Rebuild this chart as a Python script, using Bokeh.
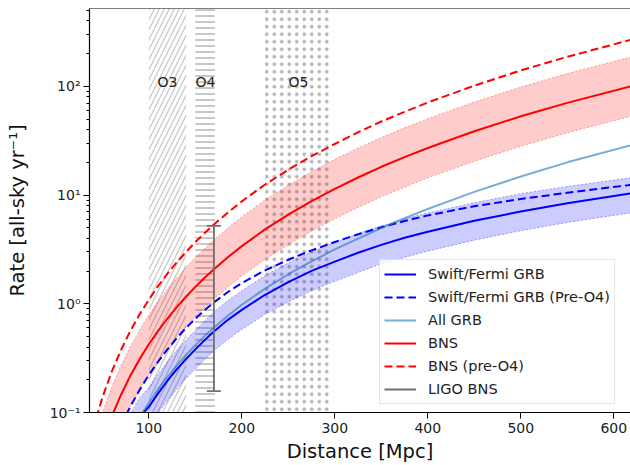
from bokeh.plotting import figure
from bokeh.models import (Range1d, FixedTicker, CustomJSTickFormatter, Span, Legend)
from bokeh.core.properties import value
from bokeh.embed import file_html
from bokeh.resources import INLINE

# ---------------- data ----------------
distance = [40, 50, 60, 70, 80, 90, 100, 110, 120, 130, 140, 150, 160, 170, 185, 200,
            225, 250, 275, 300, 325, 350, 375, 400, 450, 500, 550, 620]

swift_fermi = [0.008, 0.0155, 0.027, 0.043, 0.064, 0.091, 0.113, 0.150, 0.196, 0.249, 0.31, 0.381, 0.463, 0.557, 0.712, 0.88,
               1.21, 1.58, 2.005, 2.44, 2.945, 3.48, 4.05, 4.6, 5.8, 7.05, 8.4, 10.4]
swift_fermi_hi = [0.012, 0.023, 0.040, 0.065, 0.096, 0.137, 0.17, 0.225, 0.294, 0.374, 0.465, 0.57, 0.695, 0.84, 1.07, 1.32,
                  1.82, 2.37, 3.0, 3.66, 4.42, 5.2, 6.05, 6.85, 8.5, 10.3, 12.0, 14.5]
swift_fermi_lo = [0.0053, 0.0102, 0.0178, 0.028, 0.042, 0.060, 0.075, 0.099, 0.129, 0.164, 0.205, 0.251, 0.306, 0.37, 0.47, 0.58,
                  0.80, 1.04, 1.32, 1.61, 1.94, 2.33, 2.67, 3.05, 3.85, 4.7, 5.6, 6.9]
swift_fermi_pre = [0.0141, 0.0276, 0.0477, 0.0757, 0.113, 0.161, 0.221, 0.294, 0.38, 0.482, 0.60, 0.73, 0.874, 1.03, 1.283, 1.55,
                   2.03, 2.54, 3.10, 3.7, 4.36, 5.05, 5.78, 6.5, 7.9, 9.2, 10.5, 12.45]
all_grb = [0.0079, 0.0154, 0.0266, 0.0422, 0.063, 0.0897, 0.123, 0.164, 0.213, 0.270, 0.338, 0.415, 0.504, 0.604, 0.775, 0.98,
           1.38, 1.87, 2.46, 3.16, 3.98, 4.97, 6.12, 7.45, 10.7, 14.8, 20.0, 29.0]

bns = [0.0271, 0.053, 0.0915, 0.145, 0.217, 0.309, 0.424, 0.564, 0.732, 0.931, 1.16, 1.43, 1.735, 2.08, 2.68, 3.39,
       4.83, 6.62, 8.81, 11.4, 14.5, 18.2, 22.3, 27.1, 38.6, 53.0, 70.5, 101]
bns_hi = [0.050, 0.099, 0.170, 0.27, 0.40, 0.57, 0.79, 1.05, 1.36, 1.73, 2.16, 2.66, 3.23, 3.87, 4.99, 6.3,
          8.98, 12.3, 16.4, 21.3, 27.0, 33.8, 41.5, 50.4, 71.8, 98.5, 131, 188]
bns_lo = [0.0144, 0.028, 0.0485, 0.077, 0.115, 0.164, 0.225, 0.299, 0.388, 0.493, 0.615, 0.758, 0.92, 1.10, 1.42, 1.80,
          2.56, 3.51, 4.67, 6.05, 7.69, 9.65, 11.8, 14.4, 20.5, 28.1, 37.4, 53.5]
bns_pre = [0.070, 0.137, 0.236, 0.374, 0.56, 0.797, 1.09, 1.455, 1.89, 2.40, 2.99, 3.69, 4.48, 5.37, 6.91, 8.75,
           12.5, 17.1, 22.8, 29.5, 37.8, 47.5, 58.2, 71.0, 101.5, 140, 187, 270]

ligo_bns_d = 170
ligo_bns_lo = 0.157
ligo_bns_hi = 5.2

runs = ["O3", "O4", "O5"]
run_start = [100, 150, 225]
run_end = [140, 171, 295]
run_label_x = [120, 161, 261]
run_label_y = [110, 110, 110]

x_ticks = [100, 200, 300, 400, 500, 600]
y_ticks = [0.1, 1, 10, 100]
y_minor = [m * 10.0 ** k for k in (-1, 0, 1, 2) for m in range(2, 10) if m * 10.0 ** k < 520]

XMIN, XMAX = 36.2, 618
YMIN, YMAX = 0.1, 520

FONT = "DejaVu Sans"

p = figure(width=630, height=465, output_backend="svg", toolbar_location=None,
           y_axis_type="log",
           x_range=Range1d(XMIN, XMAX), y_range=Range1d(YMIN, YMAX),
           min_border_left=89, min_border_right=0, min_border_top=8, min_border_bottom=52)
p.outline_line_color = None
p.grid.visible = False
p.background_fill_color = "white"
p.border_fill_color = "white"

# ---------- observing run regions (hatched) ----------
p.quad(left=[run_start[0]], right=[run_end[0]], bottom=[YMIN], top=[YMAX],
       fill_alpha=0, line_color=None, hatch_pattern="/", hatch_color="#c4c4c4",
       hatch_scale=10, hatch_weight=1.2)
p.quad(left=[run_start[1]], right=[run_end[1]], bottom=[YMIN], top=[YMAX],
       fill_alpha=0, line_color=None, hatch_pattern="-", hatch_color="#c8c8c8",
       hatch_scale=6, hatch_weight=2)
p.quad(left=[run_start[2]], right=[run_end[2]], bottom=[YMIN], top=[YMAX],
       fill_alpha=0, line_color=None, hatch_pattern=".", hatch_color="#b4b4b4",
       hatch_scale=7.5, hatch_weight=1)

p.text(x=run_label_x, y=run_label_y, text=runs, text_align="center", text_baseline="middle",
       text_font=value(FONT), text_font_size="14px", text_color="#222222")

# ---------- bands ----------
p.varea(x=distance, y1=bns_lo, y2=bns_hi, fill_color="red", fill_alpha=0.2)
p.line(distance, bns_hi, line_color="red", line_alpha=0.35, line_width=1, line_dash="2 2")
p.line(distance, bns_lo, line_color="red", line_alpha=0.35, line_width=1, line_dash="2 2")

p.varea(x=distance, y1=swift_fermi_lo, y2=swift_fermi_hi, fill_color="blue", fill_alpha=0.2)
p.line(distance, swift_fermi_hi, line_color="blue", line_alpha=0.35, line_width=1, line_dash="2 2")
p.line(distance, swift_fermi_lo, line_color="blue", line_alpha=0.35, line_width=1, line_dash="2 2")

# ---------- curves ----------
r1 = p.line(distance, swift_fermi, line_color="blue", line_width=2)
r2 = p.line(distance, swift_fermi_pre, line_color="blue", line_width=2, line_dash="8 4")
r3 = p.line(distance, all_grb, line_color="#1f77b4", line_alpha=0.6, line_width=2)
r4 = p.line(distance, bns, line_color="red", line_width=2)
r5 = p.line(distance, bns_pre, line_color="red", line_width=2, line_dash="8 4")

# ---------- LIGO BNS error bar ----------
r6 = p.line([ligo_bns_d, ligo_bns_d], [ligo_bns_lo, ligo_bns_hi], line_color="#707070", line_width=1.8)
p.scatter([ligo_bns_d, ligo_bns_d], [ligo_bns_lo, ligo_bns_hi], marker="dash", size=14,
          line_color="#707070", line_width=1.8)

# ---------- spines ----------
p.add_layout(Span(location=YMAX, dimension="width", line_color="black", line_width=1.2))
p.add_layout(Span(location=XMAX, dimension="height", line_color="black", line_alpha=0.25, line_width=1))

# ---------- axes ----------
p.xaxis.ticker = FixedTicker(ticks=x_ticks, minor_ticks=[])
p.yaxis.ticker = FixedTicker(ticks=y_ticks, minor_ticks=y_minor)
p.yaxis.formatter = CustomJSTickFormatter(code="""
const sup = {"-":"\u207b","0":"\u2070","1":"\u00b9","2":"\u00b2","3":"\u00b3","4":"\u2074","5":"\u2075","6":"\u2076","7":"\u2077","8":"\u2078","9":"\u2079"};
const e = Math.round(Math.log10(tick));
return "10" + String(e).split("").map(c => sup[c]).join("");
""")

for ax in (p.xaxis, p.yaxis):
    ax.axis_line_color = "black"
    ax.axis_line_width = 1.2
    ax.major_tick_line_color = "black"
    ax.minor_tick_line_color = "black"
    ax.major_tick_in = 0
    ax.major_tick_out = 6
    ax.minor_tick_in = 0
    ax.minor_tick_out = 3
    ax.major_label_text_font = FONT
    ax.major_label_text_font_size = "14px"
    ax.major_label_text_color = "#222222"
    ax.axis_label_text_font = FONT
    ax.axis_label_text_font_size = "19.5px"
    ax.axis_label_text_font_style = "normal"
    ax.axis_label_text_color = "#111111"

p.xaxis.axis_label = "Distance [Mpc]"
p.yaxis.axis_label = "Rate [all-sky yr\u207b\u00b9]"
p.xaxis.major_label_standoff = 4
p.xaxis.axis_label_standoff = 4
p.yaxis.major_label_standoff = 3
p.yaxis.axis_label_standoff = 18

# ---------- legend ----------
legend = Legend(items=[
    ("Swift/Fermi GRB", [r1]),
    ("Swift/Fermi GRB (Pre-O4)", [r2]),
    ("All GRB", [r3]),
    ("BNS", [r4]),
    ("BNS (pre-O4)", [r5]),
    ("LIGO BNS", [r6]),
], location=(290, 8))
legend.label_text_font = FONT
legend.label_text_font_size = "14.5px"
legend.label_text_color = "#222222"
legend.glyph_width = 32
legend.glyph_height = 20
legend.label_height = 20
legend.spacing = 3
legend.padding = 4
legend.margin = 0
legend.label_standoff = 12
legend.border_line_color = "#cccccc"
legend.border_line_width = 1
legend.background_fill_alpha = 0.8
p.add_layout(legend)

open("out.html", "w").write(file_html(p, INLINE))
